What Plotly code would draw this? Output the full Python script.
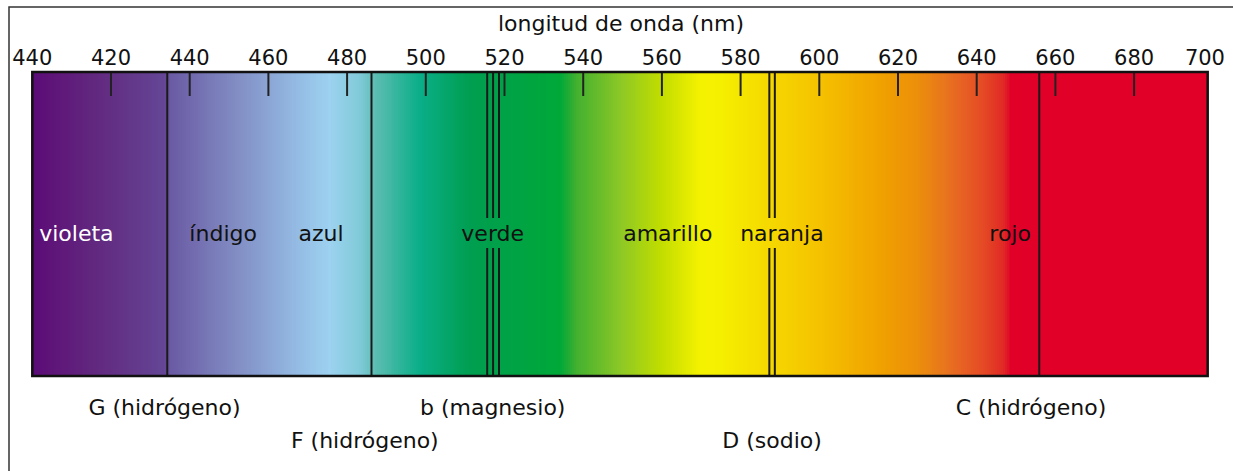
import numpy as np
import plotly.graph_objects as go

# ---------------- data ----------------
tick_values = [400, 420, 440, 460, 480, 500, 520, 540, 560, 580, 600, 620, 640, 660, 680, 700]
tick_labels = ["440", "420", "440", "460", "480", "500", "520", "540", "560", "580",
               "600", "620", "640", "660", "680", "700"]
minor_ticks = [420, 440, 460, 480, 500, 520, 540, 560, 580, 600, 620, 640, 660, 680]

# colour gradient stops (nm, colour)
grad_nm = [400, 404.5, 417.2, 433.7, 435, 450.2, 468, 475.7, 483.3, 487.1, 498.5,
           511.2, 534.1, 538, 549.4, 559.5, 569.7, 574.7, 583, 599, 616, 624.5,
           633, 641.5, 646.6, 648.6, 698.7]
grad_col = ["#5a0a78", "#5e1478", "#622a80", "#644696", "#6a5aa4", "#7f88c0", "#95bde5",
            "#9dd2f0", "#80cad8", "#5cbdb2", "#0aae88", "#009e50", "#00a838", "#40b030",
            "#8cc825", "#c0dc00", "#f5f200", "#f5f000", "#f5e000", "#f5c400", "#f0a000",
            "#ec900a", "#e87020", "#e54a25", "#e02a25", "#e00028", "#e00028"]

color_names = ["violeta", "índigo", "azul", "verde", "amarillo", "naranja", "rojo"]
color_name_nm = [411.2, 448.5, 473.4, 517.0, 561.5, 590.5, 648.5]
color_name_col = ["white", "#111", "#111", "#111", "#111", "#111", "#111"]

full_lines_nm = [434.3, 486.2, 655.9]          # G, F, C
broken_lines_nm = [515.6, 517.1, 518.6, 587.3, 588.7]  # b (Mg), D (Na)

line_labels = ["G (hidrógeno)", "F (hidrógeno)", "b (magnesio)", "D (sodio)", "C (hidrógeno)"]
line_label_nm = [433.6, 484.5, 517.0, 588.0, 653.8]
line_label_row = [0, 1, 0, 1, 0]

# ---------------- geometry (pixel-based y) ----------------
W, H = 1233, 471
px_per_nm = 3.935
x0_px = 32.3
nm_lo = 400 - x0_px / px_per_nm
nm_hi = 400 + (W - x0_px) / px_per_nm
bar_lo, bar_hi = 400, 698.7
bar_top, bar_bot = 72, 376
gap_top, gap_bot = 218, 248
row_y = [409, 442]
font = "DejaVu Sans"

fig = go.Figure()

# gradient
edges = np.arange(bar_lo, bar_hi + 0.25, 0.5)
centers = (edges[:-1] + edges[1:]) / 2
scale = [[(n - bar_lo) / (bar_hi - bar_lo), c] for n, c in zip(grad_nm, grad_col)]
fig.add_trace(go.Heatmap(z=[centers], x=edges, y=[bar_top, bar_bot], colorscale=scale,
                         zmin=bar_lo, zmax=bar_hi, showscale=False, hoverinfo="skip"))

# minor ticks
tx, ty = [], []
for t in minor_ticks:
    tx += [t, t, None]
    ty += [bar_top, 96, None]
fig.add_trace(go.Scatter(x=tx, y=ty, mode="lines", line=dict(color="#222", width=2),
                         hoverinfo="skip", showlegend=False))

# full lines
lx, ly = [], []
for v in full_lines_nm:
    lx += [v, v, None]
    ly += [bar_top, bar_bot, None]
fig.add_trace(go.Scatter(x=lx, y=ly, mode="lines", line=dict(color="#1a1a1a", width=2),
                         hoverinfo="skip", showlegend=False))

# broken lines
bx, by = [], []
for v in broken_lines_nm:
    bx += [v, v, None, v, v, None]
    by += [bar_top, gap_top, None, gap_bot, bar_bot, None]
fig.add_trace(go.Scatter(x=bx, y=by, mode="lines", line=dict(color="#1a1a1a", width=2),
                         hoverinfo="skip", showlegend=False))

# tick labels (last one nudged inward as in the original)
label_x = [v if v < 700 else v - 2 for v in tick_values]
fig.add_trace(go.Scatter(x=label_x, y=[60] * len(tick_values), mode="text",
                         text=tick_labels, textfont=dict(family=font, size=21, color="#111"),
                         hoverinfo="skip", showlegend=False))

# colour names
fig.add_trace(go.Scatter(x=color_name_nm, y=[235] * len(color_names), mode="text",
                         text=color_names,
                         textfont=dict(family=font, size=22, color=color_name_col),
                         hoverinfo="skip", showlegend=False))

# line labels
fig.add_trace(go.Scatter(x=line_label_nm, y=[row_y[r] for r in line_label_row], mode="text",
                         text=line_labels, textfont=dict(family=font, size=22, color="#111"),
                         hoverinfo="skip", showlegend=False))

# title
fig.add_annotation(x=549.6, y=23, text="longitud de onda (nm)", showarrow=False,
                   font=dict(family=font, size=22, color="#111"))

# bar border
fig.add_shape(type="rect", x0=bar_lo, x1=bar_hi, y0=bar_top, y1=bar_bot,
              line=dict(color="#111", width=2.5))
# outer frame
fig.add_shape(type="rect", xref="paper", yref="paper", x0=9 / W, x1=1.02,
              y0=-0.02, y1=1 - 7 / H, line=dict(color="#333", width=1.5))

fig.update_layout(
    width=W, height=H, margin=dict(l=0, r=0, t=0, b=0),
    paper_bgcolor="white", plot_bgcolor="white", showlegend=False,
    xaxis=dict(range=[nm_lo, nm_hi], visible=False, fixedrange=True),
    yaxis=dict(range=[H, 0], visible=False, fixedrange=True),
)

fig.write_html("out.html", config={"displayModeBar": False},
               post_script="document.body.style.margin='0';document.body.style.overflow='hidden';")
